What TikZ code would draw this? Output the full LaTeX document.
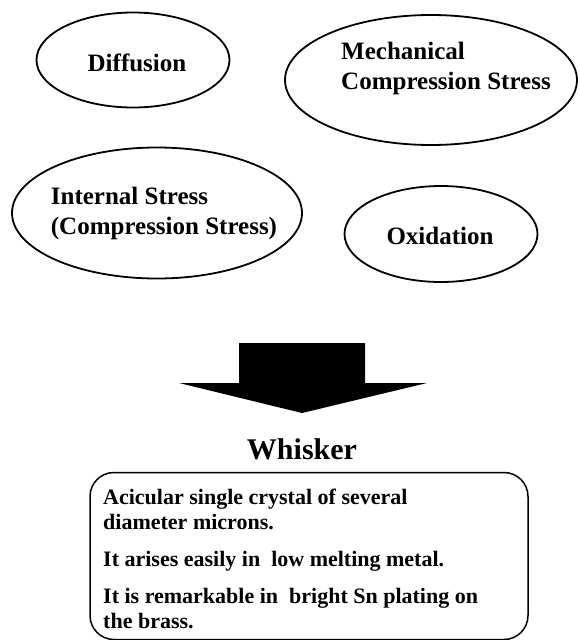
\documentclass[tikz,border=0pt]{standalone}
\usepackage{fontspec}
\setmainfont{Liberation Serif}
\usetikzlibrary{shapes.geometric}
\tikzset{
  cause/.style={ellipse, draw, line width=1.8pt, inner sep=0pt},
  causetext/.style={inner sep=0pt, align=left, font=\fontsize{25}{30}\selectfont\bfseries},
}
\begin{document}
\begin{tikzpicture}[x=1pt, y=-1pt]
            \useasboundingbox (0, 0) rectangle (579, 640);
            % the four causes
            \node[cause, minimum width=193pt, minimum height=95pt] (diff) at (133, 60) {};
            \node[causetext] (difft) at (137, 63) {Diffusion};
            \node[cause, minimum width=292pt, minimum height=130pt] (mech) at (431, 80) {};
            \node[causetext] (mecht) at (446, 68) {Mechanical\\Compression Stress};
            \node[cause, minimum width=290pt, minimum height=131pt] (intl) at (157, 213) {};
            \node[causetext] (intlt) at (164, 213) {Internal Stress\\(Compression Stress)};
            \node[cause, minimum width=193pt, minimum height=96pt] (oxid) at (441, 234) {};
            \node[causetext] (oxidt) at (440, 236) {Oxidation};

            % block arrow
            \fill (239, 343) -- (365, 343) -- (365, 383) -- (427, 383) -- (302, 413)
                -- (179, 383) -- (239, 383) -- cycle;

            \node[font=\fontsize{30}{36}\selectfont\bfseries] (whisk) at (302, 449) {Whisker};
            \node[draw, line width=1.5pt, rounded corners=24pt, minimum width=438pt, minimum height=167pt]
                (desc) at (309, 556) {};
            \node[anchor=north west, inner sep=0pt, align=left, font=\fontsize{22}{25}\selectfont\bfseries]
                (desct) at (103, 489)
                {Acicular single crystal of several\\diameter microns.\\[12pt]
                 It arises easily in\ \ low melting metal.\\[12pt]
                 It is remarkable in\ \ bright Sn plating on\\the brass.};
        \end{tikzpicture}
\end{document}
